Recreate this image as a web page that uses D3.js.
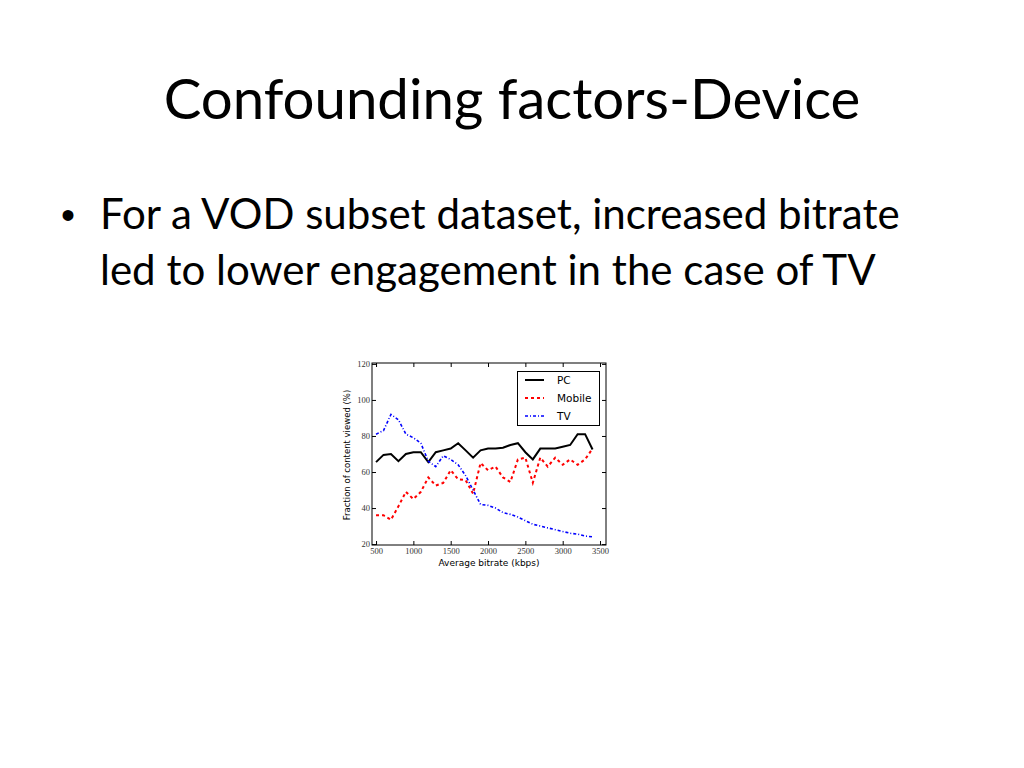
<!DOCTYPE html>
<html><head><meta charset="utf-8">
<script src="https://cdn.jsdelivr.net/npm/d3@7"></script>
<style>body{margin:0;background:#fff} svg{display:block}</style>
</head><body><svg id="c" width="1024" height="768"></svg>
<script>
const bitrate = [500,600,700,800,900,1000,1100,1200,1300,1400,1500,1600,1700,1800,1900,2000,2100,2200,2300,2400,2500,2600,2700,2800,2900,3000,3100,3200,3300,3400];
const pcValues = [65.5,69.5,70,66,70,71,71,65.5,71,72,73,76,72,68,72,73,73,73.5,75,76,71,67,73,73,73,74,75,81,81,72.5];
const mobileValues = [36,36,33.5,41,49,45,49,57,52.5,54,61,56,55.5,48,65,61,63,57,54.5,67,68,54,68,63,68,64,67,64,67,73];
const tvValues = [81,83,92,89,81,79,76,66,63,69,67,64,58,50,42,41.5,40,37.5,36.5,35,33,31,30,29,28,27,26,25.5,24.5,24];
const xTicks = [500,1000,1500,2000,2500,3000,3500];
const yTicks = [20,40,60,80,100,120];
const seriesNames = ["PC","Mobile","TV"];
const xLabel = "Average bitrate (kbps)";
const yLabel = "Fraction of content viewed (%)";
const titleText = "Confounding factors-Device";
const bulletLines = ["For a VOD subset dataset, increased bitrate","led to lower engagement in the case of TV"];

const svg = d3.select("#c");
const slideFont = "Lato, 'Open Sans', sans-serif";

function fitWidth(sel, target) {
  const fs = parseFloat(sel.attr("font-size"));
  const w = sel.node().getComputedTextLength();
  const nfs = fs * target / w;
  sel.attr("font-size", nfs);
  return nfs;
}

// Title
const title = svg.append("text").attr("x", 512).attr("y", 119)
  .attr("text-anchor", "middle").attr("font-family", slideFont)
  .attr("font-size", 60).attr("fill", "#000").text(titleText);
fitWidth(title, 697);

// Bullet
svg.append("text").attr("x", 61).attr("y", 229).attr("font-family", "Arial, 'Liberation Sans', sans-serif")
  .attr("font-size", 40).text("\u2022");
const l1 = svg.append("text").attr("x", 100).attr("y", 229).attr("font-family", slideFont)
  .attr("font-size", 40).text(bulletLines[0]);
const bfs = fitWidth(l1, 800);
svg.append("text").attr("x", 100).attr("y", 285).attr("font-family", slideFont)
  .attr("font-size", bfs).text(bulletLines[1]);

// Chart
const L = 372, R = 606, T = 363, B = 545;
const x = d3.scaleLinear().domain([446, 3580]).range([L, R]);
const y = d3.scaleLinear().domain([19.5, 120.5]).range([B, T]);
const tickFont = "'Liberation Serif', 'DejaVu Serif', serif";

const gB = svg.append("g").attr("transform", `translate(0,${B})`)
  .call(d3.axisBottom(x).tickValues(xTicks).tickSizeInner(-4).tickSizeOuter(0).tickPadding(3).tickFormat(d3.format("d")));
const gL = svg.append("g").attr("transform", `translate(${L},0)`)
  .call(d3.axisLeft(y).tickValues(yTicks).tickSizeInner(-4).tickSizeOuter(0).tickPadding(2).tickFormat(d3.format("d")));
const gT = svg.append("g").attr("transform", `translate(0,${T})`)
  .call(d3.axisTop(x).tickValues(xTicks).tickSizeInner(-4).tickSizeOuter(0).tickFormat(""));
const gR = svg.append("g").attr("transform", `translate(${R},0)`)
  .call(d3.axisRight(y).tickValues(yTicks).tickSizeInner(-4).tickSizeOuter(0).tickFormat(""));
[gB, gL, gT, gR].forEach(g => {
  g.select(".domain").remove();
  g.selectAll("line").attr("stroke", "#000").attr("stroke-width", 1);
  g.selectAll("text").attr("font-family", tickFont).attr("font-size", 8.5).attr("fill", "#333");
});

const line = vals => d3.line().x((d, i) => x(bitrate[i])).y(d => y(d))(vals);
const clip = svg.append("clipPath").attr("id", "pc").append("rect")
  .attr("x", L).attr("y", T).attr("width", R - L).attr("height", B - T);
const plot = svg.append("g").attr("clip-path", "url(#pc)");

const styles = [
  {vals: pcValues, color: "#000", w: 2, dash: null},
  {vals: mobileValues, color: "#ff0000", w: 2, dash: "3,3"},
  {vals: tvValues, color: "#0000ff", w: 1.6, dash: "3,2,1,2"}
];
styles.forEach(s => {
  plot.append("path").attr("d", line(s.vals)).attr("fill", "none")
    .attr("stroke", s.color).attr("stroke-width", s.w)
    .attr("stroke-dasharray", s.dash).attr("stroke-linejoin", "miter");
});

svg.append("rect").attr("x", L).attr("y", T).attr("width", R - L).attr("height", B - T)
  .attr("fill", "none").attr("stroke", "#000").attr("stroke-width", 1);

// Legend
const lg = svg.append("g");
lg.append("rect").attr("x", 517.5).attr("y", 371.5).attr("width", 82).attr("height", 54)
  .attr("fill", "#fff").attr("stroke", "#000").attr("stroke-width", 1);
seriesNames.forEach((n, i) => {
  const yy = 380 + i * 18;
  lg.append("line").attr("x1", 525).attr("x2", 544).attr("y1", yy).attr("y2", yy)
    .attr("stroke", styles[i].color).attr("stroke-width", styles[i].w)
    .attr("stroke-dasharray", styles[i].dash);
  lg.append("text").attr("x", 557).attr("y", yy + 4).attr("font-family", "'DejaVu Sans', sans-serif")
    .attr("font-size", 10.5).text(n);
});

// Axis labels
svg.append("text").attr("x", 489).attr("y", 566).attr("text-anchor", "middle")
  .attr("font-family", "'DejaVu Sans', sans-serif").attr("font-size", 9).text(xLabel);
svg.append("text").attr("transform", "translate(350,455) rotate(-90)").attr("text-anchor", "middle")
  .attr("font-family", "'DejaVu Sans', sans-serif").attr("font-size", 8.5).text(yLabel);
</script></body></html>
